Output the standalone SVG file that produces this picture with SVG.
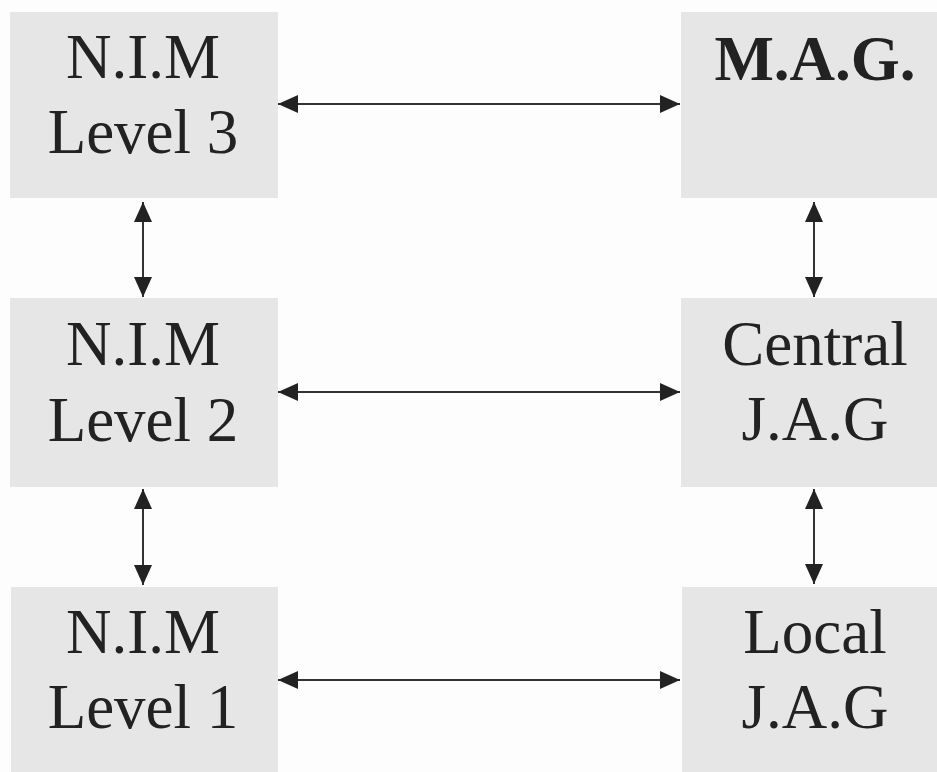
<svg xmlns="http://www.w3.org/2000/svg" width="937" height="772" viewBox="0 0 937 772">
<style>
.box{fill:#e6e6e6}
.t{font-family:"Liberation Serif","Times New Roman",serif;font-size:63px;fill:#222;text-anchor:middle}
.b{font-weight:bold}
.c{stroke:#333;stroke-width:2;fill:none}
</style>
<defs>
<marker id="ah" viewBox="0 0 20 18" refX="20" refY="9" markerWidth="20" markerHeight="18" markerUnits="userSpaceOnUse" orient="auto-start-reverse">
<path d="M0,0 L20,9 L0,18 Z" fill="#222"/>
</marker>
</defs>
<rect width="937" height="772" fill="#fdfdfd"/>
<g id="nim3"><rect class="box" x="10" y="12" width="268" height="186"/><text class="t" x="143" y="78">N.I.M</text><text class="t" x="143" y="153">Level 3</text></g>
<g id="mag"><rect class="box" x="681" y="12" width="256" height="186"/><text class="t b" x="815" y="80">M.A.G.</text></g>
<g id="nim2"><rect class="box" x="10" y="298" width="268" height="189"/><text class="t" x="143" y="365">N.I.M</text><text class="t" x="143" y="441">Level 2</text></g>
<g id="cjag"><rect class="box" x="681" y="298" width="256" height="189"/><text class="t" x="815" y="365">Central</text><text class="t" x="815" y="440">J.A.G</text></g>
<g id="nim1"><rect class="box" x="11" y="587" width="267" height="185"/><text class="t" x="143" y="653">N.I.M</text><text class="t" x="143" y="728">Level 1</text></g>
<g id="ljag"><rect class="box" x="682" y="587" width="255" height="185"/><text class="t" x="815" y="653">Local</text><text class="t" x="815" y="728">J.A.G</text></g>
<g id="connectors">
<line class="c" x1="278" y1="104" x2="680" y2="104" marker-start="url(#ah)" marker-end="url(#ah)"/>
<line class="c" x1="278" y1="392" x2="680" y2="392" marker-start="url(#ah)" marker-end="url(#ah)"/>
<line class="c" x1="278" y1="680" x2="680" y2="680" marker-start="url(#ah)" marker-end="url(#ah)"/>
<line class="c" x1="143" y1="202" x2="143" y2="297" marker-start="url(#ah)" marker-end="url(#ah)"/>
<line class="c" x1="143" y1="489" x2="143" y2="585" marker-start="url(#ah)" marker-end="url(#ah)"/>
<line class="c" x1="814" y1="202" x2="814" y2="297" marker-start="url(#ah)" marker-end="url(#ah)"/>
<line class="c" x1="814" y1="489" x2="814" y2="584" marker-start="url(#ah)" marker-end="url(#ah)"/>
</g>
</svg>
